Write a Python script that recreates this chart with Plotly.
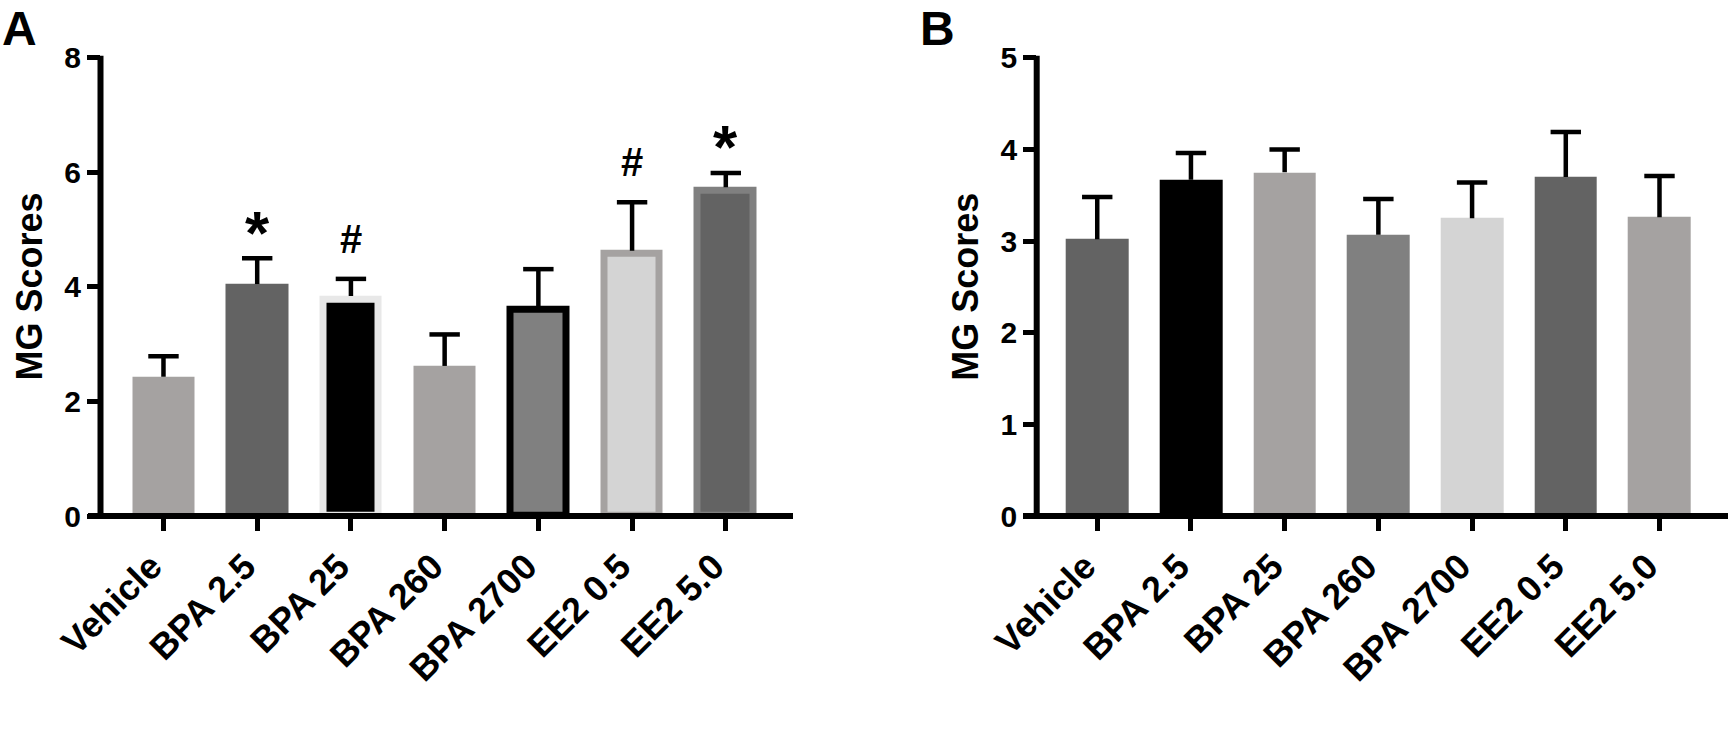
import plotly.graph_objects as go

# ---------------- data ----------------
categories = ["Vehicle", "BPA 2.5", "BPA 25", "BPA 260", "BPA 2700", "EE2 0.5", "EE2 5.0"]

a_means = [2.43, 4.05, 3.78, 2.62, 3.60, 4.57, 5.68]
a_sem = [0.36, 0.45, 0.36, 0.55, 0.71, 0.91, 0.31]
a_sig = ["", "*", "#", "", "", "#", "*"]
a_fill = ["#a5a2a1", "#636363", "#000000", "#a5a2a1", "#808080", "#d4d4d4", "#636363"]
a_edge = ["#a5a2a1", "#636363", "#e8e8e8", "#a5a2a1", "#000000", "#a5a2a1", "#808080"]
a_outlined = [False, False, True, False, True, True, True]

b_means = [3.02, 3.67, 3.75, 3.07, 3.25, 3.70, 3.26]
b_sem = [0.46, 0.29, 0.25, 0.39, 0.39, 0.49, 0.45]
b_fill = ["#636363", "#000000", "#a5a2a1", "#808080", "#d4d4d4", "#636363", "#a5a2a1"]

a_ticks = [0, 2, 4, 6, 8]
b_ticks = [0, 1, 2, 3, 4, 5]

# ---------------- layout geometry (pixels) ----------------
W, H = 1728, 738
TOP, BOT = 57.8, 516.0
A_L, A_R = 100.5, 793.0
B_L, B_R = 1036.7, 1728.0
A_RANGE = [-0.672, 6.717]
B_RANGE = [-0.646, 6.731]
PX_UNIT_X = (A_R - A_L) / (A_RANGE[1] - A_RANGE[0])
BAR_PX = 62.7
EDGE_W = 7.0
CAP_HALF_PX = 15.2
FONT = "Liberation Sans, Arial, sans-serif"

def px(xp):
    return xp / W

def py(yp):
    return (H - yp) / H

fig = go.Figure()
xs = list(range(len(categories)))


def add_panel(xref, yref, means, sem, fills, edges, outlined, ymax):
    px_unit_y = (BOT - TOP) / ymax
    widths = [((BAR_PX - EDGE_W) if o else BAR_PX) / PX_UNIT_X for o in outlined]
    lws = [EDGE_W if o else 0 for o in outlined]
    fig.add_trace(go.Bar(
        x=xs, y=means, width=widths,
        marker=dict(color=fills, line=dict(color=edges, width=lws)),
        xaxis=xref, yaxis=yref, showlegend=False, hoverinfo="skip",
    ))
    # one-sided (upper) error bars
    ex, ey = [], []
    cap = CAP_HALF_PX / PX_UNIT_X
    for i, (m, s, o) in enumerate(zip(means, sem, outlined)):
        start = m + ((EDGE_W / 2) / px_unit_y if o else 0)
        top = m + s
        ex += [i, i, None, i - cap, i + cap, None]
        ey += [start, top, None, top, top, None]
    fig.add_trace(go.Scatter(
        x=ex, y=ey, mode="lines", line=dict(color="black", width=4.5),
        xaxis=xref, yaxis=yref, showlegend=False, hoverinfo="skip",
    ))


add_panel("x", "y", a_means, a_sem, a_fill, a_edge, a_outlined, 8)
add_panel("x2", "y2", b_means, b_sem, b_fill, b_fill, [False] * 7, 5)

axis_common = dict(showgrid=False, zeroline=False, showline=False, automargin=False,
                   ticks="outside", tickcolor="black", tickwidth=4.5)
xtick = dict(tickangle=-45, ticklen=14, ticklabelshift=-12, ticklabelstandoff=0,
             tickfont=dict(size=36, family=FONT, weight="bold", color="black"))
ytick = dict(ticklen=12.5, tickfont=dict(size=30, family=FONT, weight="bold", color="black"))

fig.update_layout(
    template="none",
    width=W, height=H,
    margin=dict(l=0, r=0, t=0, b=0, pad=0, autoexpand=False),
    paper_bgcolor="white", plot_bgcolor="white",
    font=dict(family=FONT, color="black"),
    bargap=0,
    xaxis=dict(domain=[px(A_L), px(A_R)], range=A_RANGE, tickvals=xs, ticktext=categories,
               anchor="y", **xtick, **axis_common),
    yaxis=dict(domain=[py(BOT), py(TOP)], range=[0, 8], tickvals=a_ticks,
               anchor="x", **ytick, **axis_common),
    xaxis2=dict(domain=[px(B_L), px(B_R)], range=B_RANGE, tickvals=xs, ticktext=categories,
                anchor="y2", **xtick, **axis_common),
    yaxis2=dict(domain=[py(BOT), py(TOP)], range=[0, 5], tickvals=b_ticks,
                anchor="x2", **ytick, **axis_common),
)

# axis lines
LW = 6
shapes = []
for (l, r, xl_ext) in [(A_L, A_R, 88.0), (B_L, B_R, 1023.0)]:
    shapes.append(dict(type="line", xref="paper", yref="paper",
                       x0=px(xl_ext), x1=px(r), y0=py(BOT), y1=py(BOT),
                       line=dict(color="black", width=LW), layer="above"))
    shapes.append(dict(type="line", xref="paper", yref="paper",
                       x0=px(l), x1=px(l), y0=py(BOT + LW / 2), y1=py(TOP - 2.1),
                       line=dict(color="black", width=LW), layer="above"))
fig.update_layout(shapes=shapes)

ann = []
# significance marks
for i, (m, s, t) in enumerate(zip(a_means, a_sem, a_sig)):
    if not t:
        continue
    if t == "*":
        ann.append(dict(x=i, y=m + s, xref="x", yref="y", text="<b>*</b>", showarrow=False,
                        xanchor="center", yanchor="middle", yshift=26,
                        font=dict(size=62, family=FONT, color="black")))
    else:
        ann.append(dict(x=i, y=m + s, xref="x", yref="y", text="<b>#</b>", showarrow=False,
                        xanchor="center", yanchor="middle", yshift=40,
                        font=dict(size=40, family=FONT, color="black")))

# axis titles
for xc in [29.7, 965.9]:
    ann.append(dict(x=px(xc), y=py((TOP + BOT) / 2), xref="paper", yref="paper",
                    text="<b>MG Scores</b>", textangle=-90, showarrow=False,
                    xanchor="center", yanchor="middle",
                    font=dict(size=36, family=FONT, color="black")))

# panel letters
for xl, letter in [(0.0, "A"), (917.5, "B")]:
    ann.append(dict(x=px(xl), y=1, xref="paper", yref="paper", text=f"<b>{letter}</b>",
                    showarrow=False, xanchor="left", yanchor="top", yshift=0,
                    font=dict(size=48, family=FONT, color="black")))

fig.update_layout(annotations=ann)

fig.write_html("out.html")
